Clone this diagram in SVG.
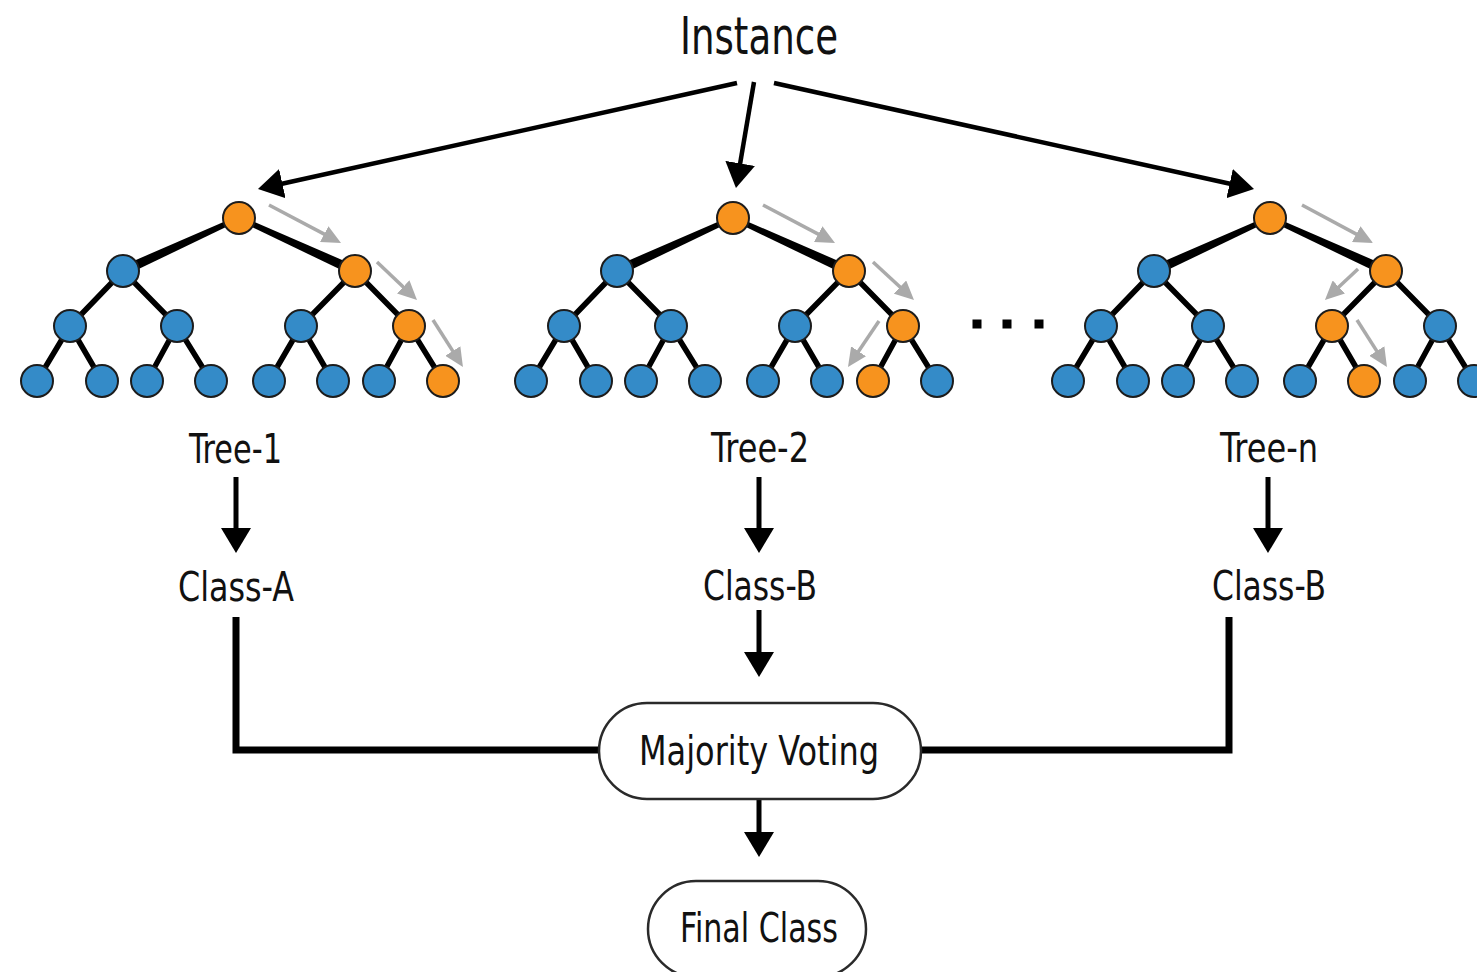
<svg xmlns="http://www.w3.org/2000/svg" xmlns:xlink="http://www.w3.org/1999/xlink" width="1477" height="972" viewBox="0 0 1477 972">
<style>
.lbl{font-family:"Liberation Sans Narrow","DejaVu Sans Condensed","Liberation Sans",sans-serif;fill:#111;text-anchor:middle}
.b{fill:#348bc8;stroke:#1c1c1c;stroke-width:2}
.o{fill:#f7931e;stroke:#1c1c1c;stroke-width:2}
.e{stroke:#000;stroke-width:5.5;fill:none}
.ga{stroke:#aaaaaa;stroke-width:3.5;fill:none;marker-end:url(#gh)}
.ba{stroke:#000;stroke-width:4.5;fill:none;marker-end:url(#bh)}
.ca{stroke:#000;stroke-width:5;fill:none;marker-end:url(#bh)}
.pill{fill:#fff;stroke:#2a2a2a;stroke-width:2.5}
.join{stroke:#000;stroke-width:7;fill:none;stroke-linejoin:miter}
</style>
<defs>
<marker id="bh" markerUnits="userSpaceOnUse" viewBox="0 0 25 30" refX="5" refY="15" markerWidth="25" markerHeight="30" orient="auto"><path d="M0,0 L25,15 L0,30 z" fill="#000"/></marker>
<marker id="gh" markerUnits="userSpaceOnUse" viewBox="0 0 19 18" refX="7" refY="9" markerWidth="19" markerHeight="18" orient="auto"><path d="M0,0 L19,9 L0,18 z" fill="#aaaaaa"/></marker>
<g id="edges">
<polygon points="1.04,2.27 -113.92,57.55 -118.08,48.45 -1.04,-2.27" fill="#000"/>
<polygon points="-1.04,2.27 113.92,57.55 118.08,48.45 1.04,-2.27" fill="#000"/>
<path class="e" d="M-116,53 L-169,108 M-116,53 L-62,108 M116,53 L62,108 M116,53 L170,108 M-169,108 L-202,163 M-169,108 L-137,163 M-62,108 L-92,163 M-62,108 L-28,163 M62,108 L30,163 M62,108 L94,163 M170,108 L140,163 M170,108 L204,163"/>
</g>
</defs>
<rect width="1477" height="972" fill="#fff"/>

<g id="connectors">
<path class="ba" d="M737,83 L277.5,184.7"/>
<path class="ba" d="M754,82 L739.3,168.3"/>
<path class="ba" d="M774,83 L1234.5,184.7"/>
<path class="ca" d="M236,477 V533"/>
<path class="ca" d="M759,477 V533"/>
<path class="ca" d="M1268,477 V533"/>
<path class="ca" d="M759,610 V657"/>
<path class="join" d="M236,617 V750 H600"/>
<path class="join" d="M1229,617 V750 H920"/>
<path class="ca" d="M759,799 V837"/>
</g>

<g id="instance"><text class="lbl" x="759" y="54" font-size="52" textLength="158" lengthAdjust="spacingAndGlyphs">Instance</text></g>

<g id="tree-1" transform="translate(239,218)">
<use xlink:href="#edges"/>
<circle class="o" cx="0" cy="0" r="16"/>
<circle class="b" cx="-116" cy="53" r="16"/><circle class="o" cx="116" cy="53" r="16"/>
<circle class="b" cx="-169" cy="108" r="16"/><circle class="b" cx="-62" cy="108" r="16"/><circle class="b" cx="62" cy="108" r="16"/><circle class="o" cx="170" cy="108" r="16"/>
<circle class="b" cx="-202" cy="163" r="16"/><circle class="b" cx="-137" cy="163" r="16"/><circle class="b" cx="-92" cy="163" r="16"/><circle class="b" cx="-28" cy="163" r="16"/><circle class="b" cx="30" cy="163" r="16"/><circle class="b" cx="94" cy="163" r="16"/><circle class="b" cx="140" cy="163" r="16"/><circle class="o" cx="204" cy="163" r="16"/>
<path class="ga" d="M30,-13 L91.4,19.4"/>
<path class="ga" d="M138,44 L169.3,73.7"/>
<path class="ga" d="M194,102 L217.5,138.9"/>
</g>

<g id="tree-2" transform="translate(733,218)">
<use xlink:href="#edges"/>
<circle class="o" cx="0" cy="0" r="16"/>
<circle class="b" cx="-116" cy="53" r="16"/><circle class="o" cx="116" cy="53" r="16"/>
<circle class="b" cx="-169" cy="108" r="16"/><circle class="b" cx="-62" cy="108" r="16"/><circle class="b" cx="62" cy="108" r="16"/><circle class="o" cx="170" cy="108" r="16"/>
<circle class="b" cx="-202" cy="163" r="16"/><circle class="b" cx="-137" cy="163" r="16"/><circle class="b" cx="-92" cy="163" r="16"/><circle class="b" cx="-28" cy="163" r="16"/><circle class="b" cx="30" cy="163" r="16"/><circle class="b" cx="94" cy="163" r="16"/><circle class="o" cx="140" cy="163" r="16"/><circle class="b" cx="204" cy="163" r="16"/>
<path class="ga" d="M30,-13 L91.4,19.4"/>
<path class="ga" d="M140,44 L172.2,73.8"/>
<path class="ga" d="M146,103 L121.7,139.1"/>
</g>

<g id="ellipsis">
<rect x="972.5" y="319.5" width="9" height="9" fill="#000"/>
<rect x="1002.5" y="319.5" width="9" height="9" fill="#000"/>
<rect x="1034.5" y="319.5" width="9" height="9" fill="#000"/>
</g>

<g id="tree-n" transform="translate(1270,218)">
<use xlink:href="#edges"/>
<circle class="o" cx="0" cy="0" r="16"/>
<circle class="b" cx="-116" cy="53" r="16"/><circle class="o" cx="116" cy="53" r="16"/>
<circle class="b" cx="-169" cy="108" r="16"/><circle class="b" cx="-62" cy="108" r="16"/><circle class="o" cx="62" cy="108" r="16"/><circle class="b" cx="170" cy="108" r="16"/>
<circle class="b" cx="-202" cy="163" r="16"/><circle class="b" cx="-137" cy="163" r="16"/><circle class="b" cx="-92" cy="163" r="16"/><circle class="b" cx="-28" cy="163" r="16"/><circle class="b" cx="30" cy="163" r="16"/><circle class="o" cx="94" cy="163" r="16"/><circle class="b" cx="140" cy="163" r="16"/><circle class="b" cx="204" cy="163" r="16"/>
<path class="ga" d="M32,-13 L92.4,19.4"/>
<path class="ga" d="M88,51 L63.7,73.8"/>
<path class="ga" d="M87,102 L110.5,138.9"/>
</g>

<g id="label-tree-1"><text class="lbl" x="235.5" y="463" font-size="41" textLength="93" lengthAdjust="spacingAndGlyphs">Tree-1</text></g>
<g id="label-tree-2"><text class="lbl" x="760" y="462" font-size="41" textLength="98" lengthAdjust="spacingAndGlyphs">Tree-2</text></g>
<g id="label-tree-n"><text class="lbl" x="1269" y="462" font-size="41" textLength="98" lengthAdjust="spacingAndGlyphs">Tree-n</text></g>
<g id="class-a"><text class="lbl" x="236" y="601" font-size="40" textLength="116" lengthAdjust="spacingAndGlyphs">Class-A</text></g>
<g id="class-b-2"><text class="lbl" x="760" y="600" font-size="40" textLength="114" lengthAdjust="spacingAndGlyphs">Class-B</text></g>
<g id="class-b-n"><text class="lbl" x="1269" y="600" font-size="40" textLength="114" lengthAdjust="spacingAndGlyphs">Class-B</text></g>

<g id="majority-voting">
<rect class="pill" x="599" y="703" width="322" height="96" rx="48" ry="48"/>
<text class="lbl" x="759" y="765" font-size="40" textLength="240" lengthAdjust="spacingAndGlyphs">Majority Voting</text>
</g>
<g id="final-class">
<rect class="pill" x="648" y="881" width="218" height="96" rx="48" ry="48"/>
<text class="lbl" x="759" y="942" font-size="41" textLength="158" lengthAdjust="spacingAndGlyphs">Final Class</text>
</g>
</svg>
